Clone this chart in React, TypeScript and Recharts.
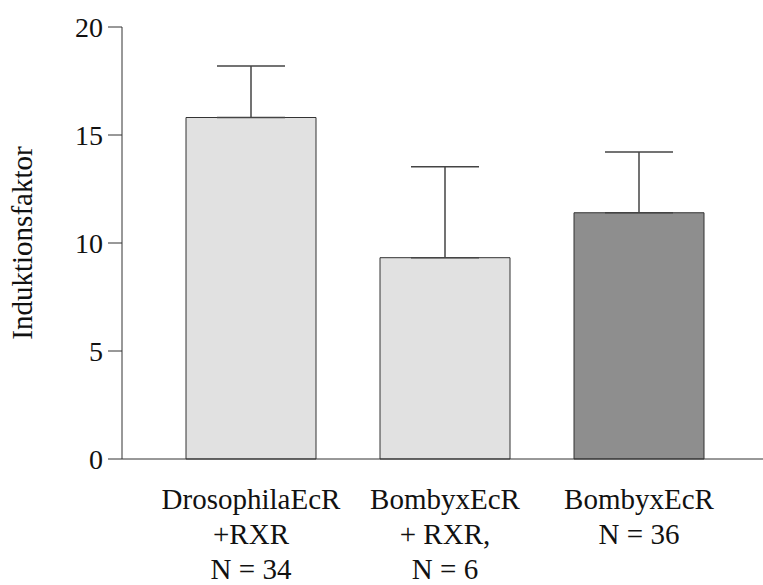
import { BarChart, Bar, XAxis, YAxis, Cell, ErrorBar } from 'recharts'

// Werte
const categories = ['DrosophilaEcR\n+RXR\nN = 34', 'BombyxEcR\n+ RXR,\nN = 6', 'BombyxEcR\nN = 36']
const means = [15.81, 9.32, 11.4]
const upperErrors = [2.39, 4.21, 2.81]
const barColors = ['#e1e1e1', '#e1e1e1', '#8e8e8e']
const yTicks = [0, 5, 10, 15, 20]

const data = categories.map((name, i) => ({
  name,
  value: means[i],
  err: [0, upperErrors[i]],
}))

const FONT = "Liberation Serif, DejaVu Serif, serif"

// mehrzeilige Beschriftung unter den Balken
function CategoryTick({ x, y, payload }: { x?: number; y?: number; payload?: { value: string } }) {
  const lines = String(payload?.value ?? '').split('\n')
  return (
    <g>
      <text
        x={x}
        y={y}
        textAnchor="middle"
        fill="#111"
        style={{ fontFamily: FONT, fontSize: 29 }}
      >
        {lines.map((line, i) => (
          <tspan key={i} x={x} dy={i === 0 ? 50 : 35}>
            {line}
          </tspan>
        ))}
      </text>
    </g>
  )
}

export default function App() {
  return (
    <div style={{ position: 'absolute', left: 0, top: 0, width: 763, height: 585, background: '#fff', fontFamily: FONT }}>
      <BarChart
        width={763}
        height={585}
        data={data}
        margin={{ top: 27, right: 0, bottom: 0, left: 0 }}
        barSize={130}
        style={{ fontFamily: FONT }}
      >
        <XAxis
          dataKey="name"
          height={126}
          interval={0}
          padding={{ left: 32, right: 27 }}
          tickLine={false}
          tickSize={0}
          tickMargin={0}
          axisLine={{ stroke: '#333' }}
          tick={<CategoryTick />}
        />
        <YAxis
          width={122}
          domain={[0, 20]}
          ticks={yTicks}
          interval={0}
          tickSize={14}
          tickMargin={5}
          axisLine={{ stroke: '#333' }}
          tickLine={{ stroke: '#333' }}
          tick={{ fill: '#111', style: { fontFamily: FONT, fontSize: 28 } }}
          label={{
            value: 'Induktionsfaktor',
            angle: -90,
            position: 'insideLeft',
            offset: 22,
            style: { textAnchor: 'middle', fontFamily: FONT, fontSize: 29, fill: '#111' },
          }}
        />
        <Bar dataKey="value" stroke="#333" strokeWidth={1} isAnimationActive={false}>
          {data.map((_, i) => (
            <Cell key={i} fill={barColors[i]} />
          ))}
          <ErrorBar dataKey="err" width={34} stroke="#444" strokeWidth={1.5} direction="y" />
        </Bar>
      </BarChart>
    </div>
  )
}
